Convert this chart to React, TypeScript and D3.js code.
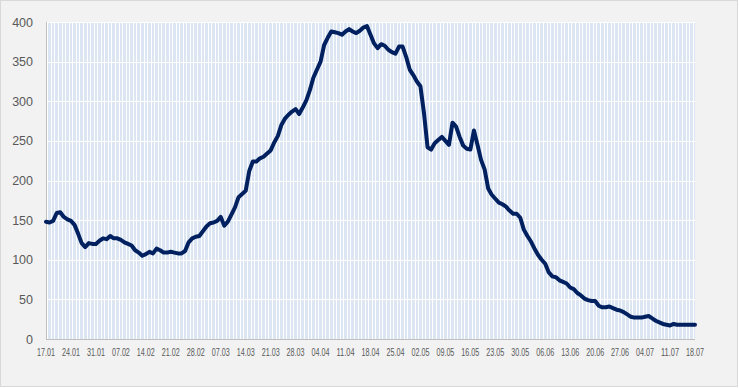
import React from "react"
import * as d3 from "d3"

// daily values, 17.01 -> 18.07 (index 0 = 17.01)
const values = [
	148, 147, 149, 159, 160, 154, 151, 149, 144, 133, 121, 116, 121, 120, 120, 124, 127, 126, 130, 127,
	127, 125, 122, 120, 118, 112, 109, 105, 107, 110, 108, 114, 112, 109, 109, 110, 109, 108, 108, 111,
	122, 127, 129, 130, 136, 142, 146, 147, 149, 154, 143, 148, 157, 166, 179, 183, 187, 212, 224, 224,
	228, 230, 234, 238, 248, 256, 270, 278, 283, 287, 290, 284, 292, 301, 314, 330, 340, 350, 371, 380,
	388, 387, 386, 384, 388, 391, 388, 386, 389, 393, 395, 384, 373, 367, 372, 370, 365, 362, 360, 369,
	369, 356, 340, 333, 325, 319, 285, 242, 239, 247, 251, 255, 250, 245, 273, 268, 255, 244, 240, 239,
	263, 245, 226, 214, 190, 182, 177, 172, 170, 167, 162, 158, 158, 153, 138, 130, 123, 114, 106, 100,
	95, 84, 79, 78, 74, 72, 70, 65, 63, 58, 55, 51, 49, 48, 48, 42, 40, 40, 41, 39,
	37, 36, 34, 31, 28, 27, 27, 27, 28, 29, 26, 23, 21, 19, 18, 17, 19, 18, 18, 18,
	18, 18, 18,
]

const tickLabels = [
	"17.01", "24.01", "31.01", "07.02", "14.02", "21.02", "28.02", "07.03", "14.03",
	"21.03", "28.03", "04.04", "11.04", "18.04", "25.04", "02.05", "09.05", "16.05",
	"23.05", "30.05", "06.06", "13.06", "20.06", "27.06", "04.07", "11.07", "18.07",
]

const yTicks = [0, 50, 100, 150, 200, 250, 300, 350, 400]

const W = 739
const H = 388
const margin = { top: 22, right: 44, bottom: 49, left: 46 }

const App = () => {
	const x = d3
		.scaleLinear()
		.domain([0, values.length - 1])
		.range([margin.left, W - margin.right])
	const y = d3
		.scaleLinear()
		.domain([0, 400])
		.range([H - margin.bottom, margin.top])

	const step = x(1) - x(0)
	const barW = step * 0.72

	const line = d3
		.line<number>()
		.x((d, i) => x(i))
		.y((d) => y(d))

	return (
		<div style={{ position: "fixed", left: 0, top: 0 }}>
			<svg width={W} height={H} style={{ display: "block" }}>
				<defs>
					<clipPath id="plot">
						<rect
							x={margin.left}
							y={margin.top}
							width={W - margin.left - margin.right}
							height={H - margin.top - margin.bottom}
						/>
					</clipPath>
				</defs>
				<rect x={0.5} y={0.5} width={W - 2} height={H - 2} fill="#f2f2f2" stroke="#d9d9d9" />
				<rect
					x={margin.left}
					y={margin.top}
					width={W - margin.left - margin.right}
					height={H - margin.top - margin.bottom}
					fill="#ffffff"
				/>
				{/* daily background columns */}
				<g clipPath="url(#plot)" fill="#dce6f2" shapeRendering="crispEdges">
					{values.map((d, i) => (
						<rect key={i} x={x(i) - barW / 2} y={y(400)} width={barW} height={y(0) - y(400)} />
					))}
				</g>
				{/* horizontal gridlines */}
				<g stroke="#ffffff" strokeWidth={1.2}>
					{yTicks.slice(1).map((t) => (
						<line key={t} x1={margin.left} x2={W - margin.right} y1={Math.round(y(t)) + 0.5} y2={Math.round(y(t)) + 0.5} />
					))}
				</g>
				<line x1={margin.left + 0.5} x2={margin.left + 0.5} y1={margin.top} y2={y(0)} stroke="#bfbfbf" />
				<line x1={margin.left} x2={W - margin.right} y1={Math.round(y(0)) + 0.5} y2={Math.round(y(0)) + 0.5} stroke="#bfbfbf" />
				{/* y labels */}
				<g fontFamily="'Liberation Sans', Arial, sans-serif" fontSize={12.5} fill="#595959" textAnchor="end">
					{yTicks.map((t) => (
						<text key={t} x={33} y={y(t)} dy="0.36em">
							{t}
						</text>
					))}
				</g>
				{/* x labels (narrow face) */}
				<g fontFamily="'Liberation Sans', Arial, sans-serif" fontSize={10.5} fill="#595959" textAnchor="middle">
					{tickLabels.map((l, i) => (
						<text key={l} x={x(i * 7)} y={356} textLength={18} lengthAdjust="spacingAndGlyphs">
							{l}
						</text>
					))}
				</g>
				<path
					d={line(values) || ""}
					fill="none"
					stroke="#002060"
					strokeWidth={4}
					strokeLinejoin="round"
					strokeLinecap="round"
				/>
			</svg>
		</div>
	)
}

export default App
